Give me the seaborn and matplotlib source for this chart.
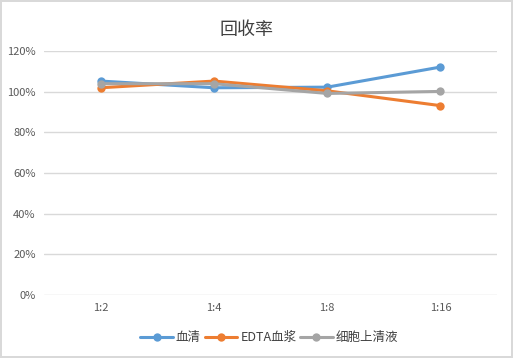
import matplotlib
matplotlib.use("Agg")
import matplotlib.pyplot as plt
import seaborn as sns
import pandas as pd
from matplotlib.ticker import PercentFormatter

# data
dilutions = ["1:2", "1:4", "1:8", "1:16"]
serum = [1.053, 1.020, 1.023, 1.122]
edta_plasma = [1.020, 1.053, 1.005, 0.932]
supernatant = [1.040, 1.040, 0.992, 1.002]
series_names = ["血清", "EDTA血浆", "细胞上清液"]
colors = ["#5B9BD5", "#ED7D31", "#A5A5A5"]

df = pd.DataFrame({
    "dilution": dilutions * 3,
    "value": serum + edta_plasma + supernatant,
    "series": [n for n in series_names for _ in dilutions],
})

sns.set_theme(style="white")
plt.rcParams["font.family"] = ["Noto Sans CJK SC", "DejaVu Sans"]

fig = plt.figure(figsize=(5.13, 3.58), dpi=100)
fig.patch.set_edgecolor("#d9d9d9")
fig.patch.set_linewidth(1.5)
ax = fig.add_axes([0.086, 0.176, 0.883, 0.681])

sns.lineplot(data=df, x="dilution", y="value", hue="series", palette=colors,
             marker="o", markersize=6, markeredgewidth=0, linewidth=2.2,
             sort=False, ax=ax)

ax.set_ylim(0, 1.2)
ax.set_xlim(-0.5, 3.5)
ax.set_yticks([0, 0.2, 0.4, 0.6, 0.8, 1.0, 1.2])
ax.yaxis.set_major_formatter(PercentFormatter(1.0, decimals=0))
ax.grid(axis="y", color="#d9d9d9", linewidth=1)
ax.set_axisbelow(True)
for s in ax.spines.values():
    s.set_visible(False)
ax.tick_params(axis="both", length=0, labelsize=8, labelcolor="#595959", pad=6)
ax.set_xlabel("")
ax.set_ylabel("")

fig.text(0.48, 0.915, "回收率", ha="center", va="center", fontsize=13, color="#404040")

ax.legend_.remove()
handles, labels = ax.get_legend_handles_labels()
fig.legend(handles, labels, loc="center", bbox_to_anchor=(0.525, 0.057), ncol=3,
           frameon=False, fontsize=9, handlelength=2.6, columnspacing=0.3,
           handletextpad=0.25, labelcolor="#404040")

fig.savefig("out.png", dpi=100)
